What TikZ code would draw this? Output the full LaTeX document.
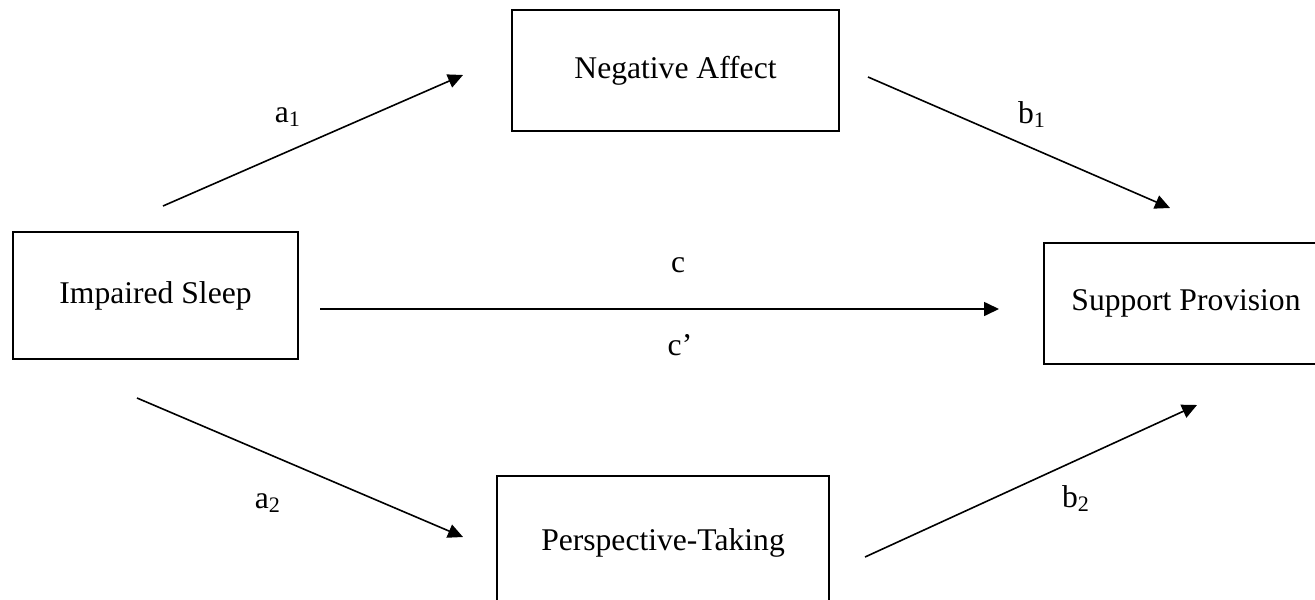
\documentclass[tikz,border=0pt]{standalone}
\usepackage{fontspec}
\setmainfont{Liberation Serif}
\usetikzlibrary{arrows.meta}
\begin{document}
\begin{tikzpicture}[x=0.5pt,y=-0.5pt,
  box/.style={draw,line width=1pt,rectangle,inner sep=0pt,font=\fontsize{15.8pt}{18pt}\selectfont},
  conn/.style={line width=0.8pt,-{Triangle[length=7.5pt,width=7pt]}},
  lab/.style={font=\fontsize{15.8pt}{18pt}\selectfont,anchor=base,inner sep=0pt}]
\useasboundingbox (0,0) rectangle (1315,599);
\clip (0,0) rectangle (1315,599);
\node[box,minimum width=142.5pt,minimum height=63.5pt] (sleep) at (155.5,295.5) {Impaired Sleep};
\node[box,minimum width=163.5pt,minimum height=60.5pt] (neg) at (675.5,70.5) {Negative Affect};
\node[box,minimum width=142pt,minimum height=60.5pt] (supp) at (1186,303.5) {Support Provision};
\node[box,minimum width=166pt,minimum height=67pt] (persp) at (663,543) {Perspective-Taking};
\coordinate (a1s) at (163,206);
\coordinate (a1e) at (463,75);
\coordinate (b1s) at (868,77);
\coordinate (b1e) at (1170,208);
\coordinate (cs) at (320,309);
\coordinate (ce) at (999,309);
\coordinate (a2s) at (137,398);
\coordinate (a2e) at (463,537);
\coordinate (b2s) at (865,557);
\coordinate (b2e) at (1197,405);
\draw[conn] (a1s) -- (a1e);
\draw[conn] (b1s) -- (b1e);
\draw[conn] (cs) -- (ce);
\draw[conn] (a2s) -- (a2e);
\draw[conn] (b2s) -- (b2e);
\node[lab] (la1) at (288,122) {a\textsubscript{1}};
\node[lab] (lb1) at (1032,123) {b\textsubscript{1}};
\node[lab] (lc) at (678,272) {c};
\node[lab] (lcp) at (680,355) {c’};
\node[lab] (la2) at (268,508) {a\textsubscript{2}};
\node[lab] (lb2) at (1076,507) {b\textsubscript{2}};
\end{tikzpicture}
\end{document}
